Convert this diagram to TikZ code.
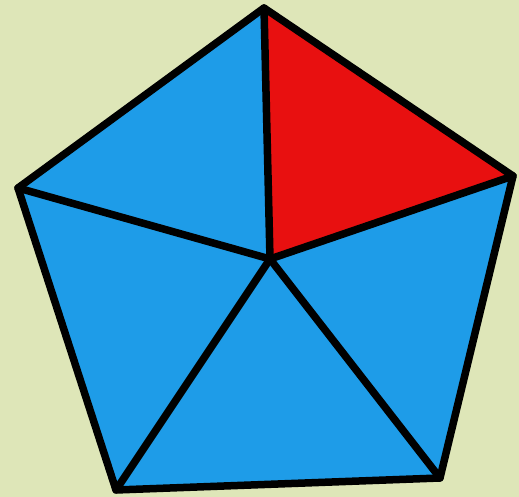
\documentclass[tikz,border=0pt]{standalone}
\usepackage{tikz}

\definecolor{paleGreen}{RGB}{222,230,184}
\definecolor{pieceBlue}{RGB}{30,156,232}
\definecolor{pieceRed}{RGB}{232,16,16}

\begin{document}
\begin{tikzpicture}[
    x=1pt, y=1pt,
    piece/.style={fill=pieceBlue},
    picked/.style={fill=pieceRed},
    edge/.style={draw=black, line width=7.5pt, line join=round, line cap=round}
]

% -- background --
\fill[paleGreen] (0,0) rectangle (519,497);
\useasboundingbox (0,0) rectangle (519,497);

% -- corners of the pentagon --
\coordinate (top)    at (264,489);
\coordinate (right)  at (513,321);
\coordinate (lowR)   at (440,19);
\coordinate (lowL)   at (116,7);
\coordinate (left)   at (18,309);
\coordinate (centre) at (270,238);

% -- five triangles --
\fill[piece]  (left) -- (top) -- (centre) -- cycle;
\fill[picked] (top) -- (right) -- (centre) -- cycle;
\fill[piece]  (right) -- (lowR) -- (centre) -- cycle;
\fill[piece]  (lowR) -- (lowL) -- (centre) -- cycle;
\fill[piece]  (lowL) -- (left) -- (centre) -- cycle;

% -- outline and spokes --
\draw[edge] (top) -- (right) -- (lowR) -- (lowL) -- (left) -- cycle;
\foreach \corner in {top, right, lowR, lowL, left}
    \draw[edge] (centre) -- (\corner);

\end{tikzpicture}
\end{document}
